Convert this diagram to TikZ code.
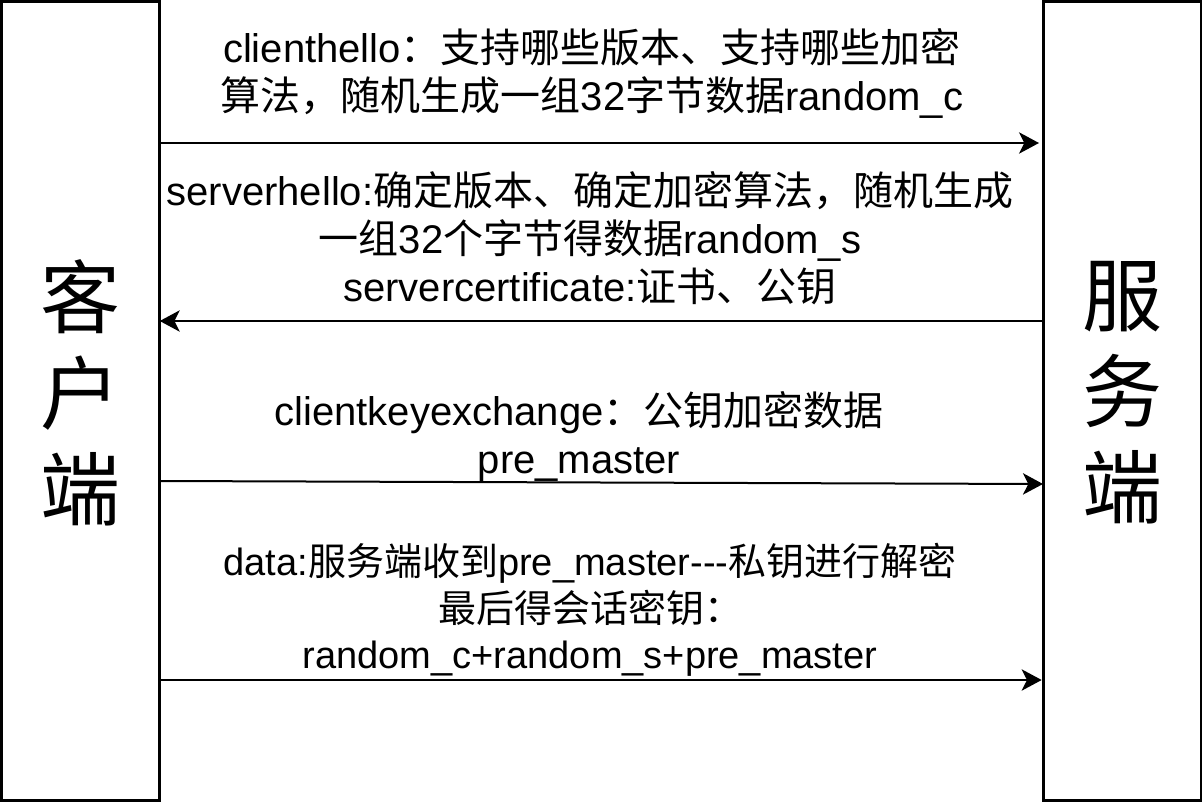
\documentclass[tikz,border=0pt]{standalone}
\usepackage{fontspec}
\setmainfont{Liberation Sans}
\newfontfamily\cjk{Noto Sans CJK SC}
\newcommand{\zh}[1]{{\cjk #1}}
\usetikzlibrary{arrows.meta}
\begin{document}
\begin{tikzpicture}[x=0.75pt,y=-0.75pt,
    side/.style={draw,line width=2.25pt,outer sep=0pt,minimum width=118.5pt,minimum height=599.25pt},
    sidetext/.style={align=center,inner sep=0pt,font=\cjk\fontsize{60pt}{72pt}\selectfont},
    msg/.style={line width=1.5pt,-{Stealth[length=15pt,width=16pt,inset=4pt]}},
    lbl/.style={align=center,inner sep=0pt,font=\fontsize{30pt}{36pt}\selectfont}]
    \useasboundingbox (0,0) rectangle (1202,802);
    \node[side] (client) at (80.75,401) {}; %client
    \node[side] (server) at (1122,401) {}; %server
    \node[sidetext] (clientname) at (80.75,393) {客\\户\\端};
    \node[sidetext] (servername) at (1122,393) {服\\务\\端};
    \coordinate (y1) at (0,143);
    \coordinate (y2) at (0,321);
    \coordinate (y3) at (0,481);
    \coordinate (y3e) at (0,484);
    \coordinate (y4) at (0,680);
    \draw[msg,shorten >=3pt] (client.east |- y1) -- (server.west |- y1); %clienthello
    \draw[msg] (server.west |- y2) -- (client.east |- y2); %serverhello
    \draw[msg] (client.east |- y3) -- (server.west |- y3e); %key exchange
    \draw[msg,shorten >=1pt] (client.east |- y4) -- (server.west |- y4); %data
    \node[lbl] (hello) at (592,73) {clienthello\zh{：支持哪些版本、支持哪些加密}\\\zh{算法，随机生成一组}32\zh{字节数据}random\_c};
    \node[lbl] (reply) at (590,238) {serverhello:\zh{确定版本、确定加密算法，随机生成}\\\zh{一组}32\zh{个字节得数据}random\_s\\servercertificate:\zh{证书、公钥}};
    \node[lbl] (keyex) at (579,437) {clientkeyexchange\zh{：公钥加密数据}\\pre\_master};
    \node[lbl,font=\fontsize{28.5pt}{35pt}\selectfont] (data) at (590,610) {data:\zh{服务端收到}pre\_master-{}-{}-\zh{私钥进行解密}\\\zh{最后得会话密钥：}\\random\_c+random\_s+pre\_master};
\end{tikzpicture}
\end{document}
